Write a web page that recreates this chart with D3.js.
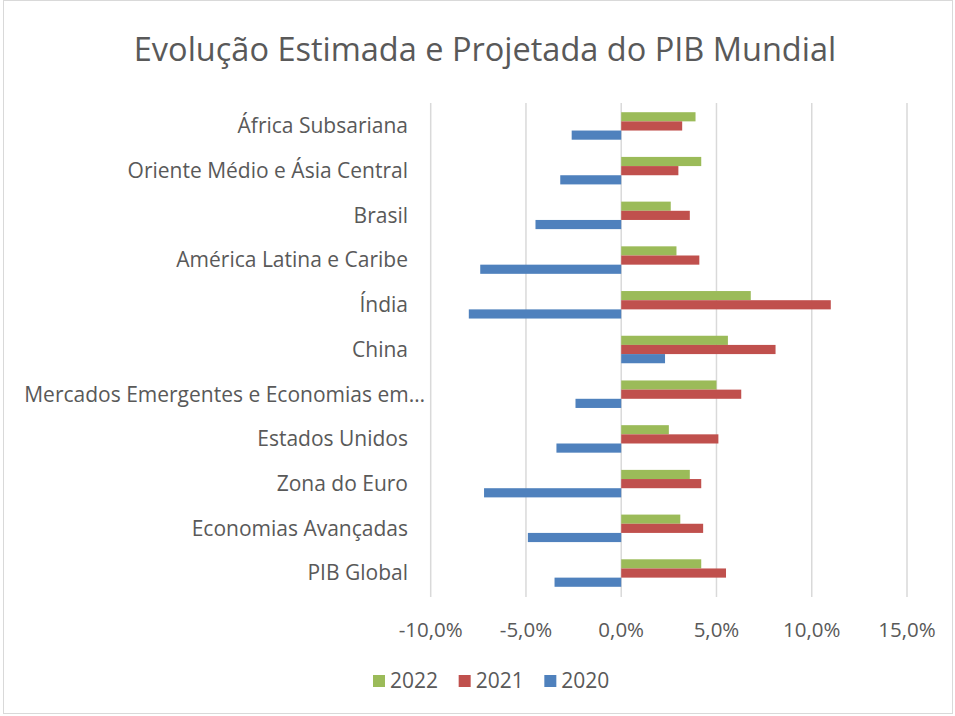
<!DOCTYPE html>
<html>
<head>
<meta charset="utf-8">
<script src="https://cdn.jsdelivr.net/npm/d3@7"></script>
<style>
  body { margin: 0; background: #fff; }
  text { font-family: "Open Sans", sans-serif; fill: #595959; }
</style>
</head>
<body>
<svg id="chart" width="955" height="716"></svg>
<script>
// categories, top to bottom as shown
var categories = [
    "África Subsariana",
    "Oriente Médio e Ásia Central",
    "Brasil",
    "América Latina e Caribe",
    "Índia",
    "China",
    "Mercados Emergentes e Economias em…",
    "Estados Unidos",
    "Zona do Euro",
    "Economias Avançadas",
    "PIB Global"
];

var years = ["2022", "2021", "2020"];

var values2022 = [3.9, 4.2, 2.6, 2.9, 6.8, 5.6, 5.0, 2.5, 3.6, 3.1, 4.2];
var values2021 = [3.2, 3.0, 3.6, 4.1, 11.0, 8.1, 6.3, 5.1, 4.2, 4.3, 5.5];
var values2020 = [-2.6, -3.2, -4.5, -7.4, -8.0, 2.3, -2.4, -3.4, -7.2, -4.9, -3.5];

var ticks = [-10, -5, 0, 5, 10, 15];

var colors = { "2022": "#9BBB59", "2021": "#C0504D", "2020": "#4F81BD" };

var series = { "2022": values2022, "2021": values2021, "2020": values2020 };

var svg = d3.select("#chart");

// chart border
svg.append("rect")
    .attr("x", 3.5).attr("y", 0.5)
    .attr("width", 949).attr("height", 713)
    .attr("fill", "none")
    .attr("stroke", "#D9D9D9");

// title
svg.append("text")
    .attr("x", 485).attr("y", 61)
    .attr("text-anchor", "middle")
    .style("font-size", "32.5px")
    .text("Evolução Estimada e Projetada do PIB Mundial");

var x = d3.scaleLinear().domain([-10, 15]).range([430.7, 907]);

var y = d3.scaleBand().domain(categories)
    .range([103.6, 595.4])
    .paddingInner(0.385).paddingOuter(0.1925);

var ySub = d3.scaleBand().domain(years).range([0, y.bandwidth()]);

// grid lines
svg.append("g").selectAll("line")
    .data(ticks)
    .join("line")
    .attr("x1", function (d) { return x(d); })
    .attr("x2", function (d) { return x(d); })
    .attr("y1", 103).attr("y2", 597)
    .attr("stroke", "#D9D9D9")
    .attr("stroke-width", 1.5);

// bars
years.forEach(function (yr) {
    svg.append("g").selectAll("rect")
        .data(categories.map(function (c, i) { return { cat: c, v: series[yr][i] }; }))
        .join("rect")
        .attr("x", function (d) { return x(Math.min(0, d.v)); })
        .attr("width", function (d) { return Math.abs(x(d.v) - x(0)); })
        .attr("y", function (d) { return y(d.cat) + ySub(yr); })
        .attr("height", ySub.bandwidth())
        .attr("fill", colors[yr]);
});

// category labels
svg.append("g").selectAll("text")
    .data(categories)
    .join("text")
    .attr("x", function (d) { return d.slice(-1) === "…" ? 425 : 408; })
    .attr("y", function (d) { return y(d) + y.bandwidth() / 2; })
    .attr("dy", "0.35em")
    .attr("text-anchor", "end")
    .style("font-size", "21px")
    .text(function (d) { return d; });

// x tick labels
svg.append("g").selectAll("text")
    .data(ticks)
    .join("text")
    .attr("x", function (d) { return x(d); })
    .attr("y", 637)
    .attr("text-anchor", "middle")
    .style("font-size", "20.5px")
    .text(function (d) { return d3.format(".1f")(d).replace("−", "-").replace(".", ",") + "%"; });

// legend
var legend = svg.append("g").attr("transform", "translate(373,681)");
var legendX = d3.scaleBand().domain(years).range([0, 257]);
var items = legend.selectAll("g")
    .data(years)
    .join("g")
    .attr("transform", function (d) { return "translate(" + legendX(d) + ",0)"; });
items.append("rect")
    .attr("x", 0).attr("y", -6)
    .attr("width", 12).attr("height", 12)
    .attr("fill", function (d) { return colors[d]; });
items.append("text")
    .attr("x", 17).attr("y", 0)
    .attr("dy", "0.35em")
    .style("font-size", "21px")
    .text(function (d) { return d; });
</script>
</body>
</html>
